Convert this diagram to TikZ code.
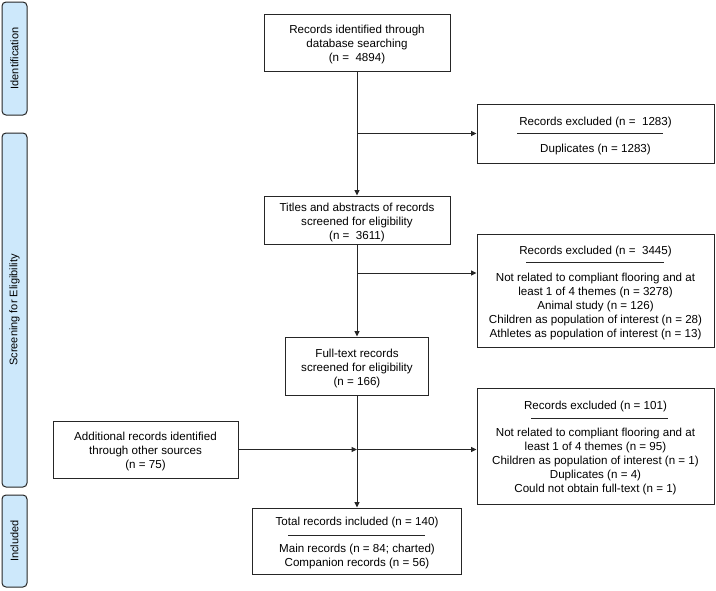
\documentclass[tikz,border=0pt]{standalone}
\usepackage{fontspec}
\setmainfont{Liberation Sans}
\usetikzlibrary{arrows.meta,calc}
\definecolor{stageblue}{RGB}{205,232,251}
\newcommand{\topgap}{\rule{0pt}{13pt}}
\begin{document}
\begin{tikzpicture}[x=1pt, y=-1pt,
    font=\fontsize{11.6}{14}\selectfont,
    box/.style={draw=black!85, line width=1pt, fill=white, align=center, inner sep=0pt},
    stage/.style={draw=black!85, line width=1pt, fill=stageblue, rounded corners=4pt, rotate=90,
      minimum height=25pt, inner sep=0pt, font=\fontsize{11}{13}\selectfont},
    arr/.style={draw=black!85, line width=1pt, -{Triangle[length=5.5pt,width=5pt]}},
    sep/.style={draw=black!85, line width=1pt}]
    \useasboundingbox (0,0) rectangle (716,590);
    % stages on the left
    \node[stage, minimum width=113pt] (ident) at (14.5,58.5) {Identification};
    \node[stage, minimum width=354pt] (screen) at (14.5,310) {Screening for Eligibility};
    \node[stage, minimum width=92pt] (incl) at (14.5,541) {Included};
    % main column
    \node[box, minimum width=186pt, minimum height=57pt] (dbsearch) at (357,42.5)
      {\topgap Records identified through\\database searching\\(n = \ 4894)};
    \node[box, minimum width=186pt, minimum height=48pt] (titles) at (357,220)
      {\topgap Titles and abstracts of records\\screened for eligibility\\(n = \ 3611)};
    \node[box, minimum width=143pt, minimum height=58pt] (fulltext) at (357,366)
      {\topgap Full-text records\\screened for eligibility\\(n = 166)};
    \node[box, minimum width=209pt, minimum height=66pt] (total) at (357,541)
      {\topgap Total records included (n = 140)\\[13pt]Main records (n = 84; charted)\\Companion records (n = 56)};
    \node[box, minimum width=185pt, minimum height=57pt] (other) at (145.5,449.5)
      {\topgap Additional records identified\\through other sources\\(n = 75)};
    % exclusions on the right
    \node[box, minimum width=237pt, minimum height=59pt] (excl1) at (595.5,133.5)
      {\topgap Records excluded (n = \ 1283)\\[13pt]Duplicates (n = 1283)};
    \node[box, minimum width=237pt, minimum height=113pt] (excl2) at (595.5,290.5)
      {\topgap Records excluded (n = \ 3445)\\[13pt]Not related to compliant flooring and at\\least 1 of 4 themes (n = 3278)\\Animal study (n = 126)\\Children as population of interest (n = 28)\\Athletes as population of interest (n = 13)};
    \node[box, minimum width=237pt, minimum height=116pt] (excl3) at (595.5,446)
      {\topgap Records excluded (n = 101)\\[13pt]Not related to compliant flooring and at\\least 1 of 4 themes (n = 95)\\Children as population of interest (n = 1)\\Duplicates (n = 4)\\Could not obtain full-text (n = 1)};
    \draw[sep] (517,133) -- (663,133);
    \draw[sep] (526,262) -- (664,262);
    \draw[sep] (531,418) -- (668,418);
    \draw[sep] (288,535) -- (425,535);
    % arrows
    \draw[arr] (dbsearch) -- (titles);
    \draw[arr] (dbsearch.south |- excl1.west) -- (excl1.west);
    \draw[arr] (titles) -- (fulltext);
    \coordinate (j2) at ($(titles.south)!0.31!(fulltext.north)$);
    \draw[arr] (j2) -- (j2 -| excl2.west);
    \draw[arr] (fulltext) -- (total);
    \draw[arr] (other) -- (other.east -| fulltext.south);
    \draw[arr] (other.east -| fulltext.south) -- (other.east -| excl3.west);
\end{tikzpicture}
\end{document}
